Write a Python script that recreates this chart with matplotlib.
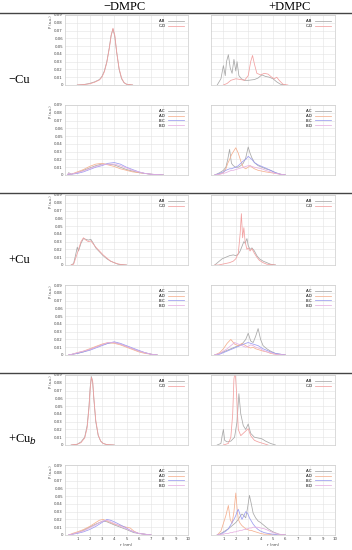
import numpy as np
import matplotlib
matplotlib.use("Agg")
import matplotlib.pyplot as plt
from matplotlib.lines import Line2D

# ---- data ----
# -Cu, -DMPC
x1 = [1.0, 1.5, 2.0, 2.4, 2.8, 3.0, 3.2, 3.4, 3.6, 3.75, 3.9, 4.05, 4.2, 4.4, 4.6, 4.8, 5.0, 5.5]
ab1 = [0, 0.0005, 0.002, 0.004, 0.007, 0.011, 0.018, 0.030, 0.048, 0.064, 0.072, 0.062, 0.042, 0.020, 0.008, 0.003, 0.001, 0]
cd1 = [0, 0.0005, 0.0015, 0.0035, 0.0065, 0.010, 0.017, 0.029, 0.047, 0.063, 0.073, 0.064, 0.043, 0.021, 0.009, 0.003, 0.001, 0]

x2 = [0.2, 0.3, 0.5, 1.0, 1.5, 2.0, 2.5, 3.0, 3.5, 4.0, 4.5, 5.0, 5.5, 6.0, 6.5, 7.0, 7.5, 8.0]
ac2 = [0, 0.003, 0.001, 0.003, 0.006, 0.009, 0.012, 0.014, 0.014, 0.013, 0.010, 0.007, 0.005, 0.003, 0.002, 0.001, 0.0005, 0]
ad2 = [0, 0.001, 0.001, 0.004, 0.007, 0.011, 0.014, 0.015, 0.013, 0.011, 0.008, 0.006, 0.004, 0.003, 0.002, 0.001, 0.0005, 0]
bc2 = [0, 0.001, 0.001, 0.002, 0.004, 0.007, 0.010, 0.012, 0.015, 0.016, 0.014, 0.010, 0.007, 0.004, 0.002, 0.001, 0.0005, 0]
bd2 = [0, 0.002, 0.001, 0.003, 0.005, 0.008, 0.011, 0.013, 0.014, 0.014, 0.012, 0.009, 0.006, 0.004, 0.002, 0.001, 0.0005, 0]

# -Cu, +DMPC
x3ab = [0.5, 0.8, 1.0, 1.15, 1.25, 1.4, 1.55, 1.7, 1.85, 2.0, 2.1, 2.25, 2.45, 2.7, 3.0, 3.5, 3.8, 4.1, 4.4, 4.7, 5.0, 5.3, 5.6, 6.0]
ab3 = [0, 0.008, 0.025, 0.012, 0.030, 0.039, 0.022, 0.015, 0.033, 0.018, 0.030, 0.012, 0.008, 0.006, 0.006, 0.007, 0.009, 0.013, 0.011, 0.010, 0.008, 0.004, 0.001, 0]
x3cd = [1.0, 1.3, 1.6, 2.0, 2.4, 2.7, 3.0, 3.2, 3.35, 3.5, 3.7, 4.0, 4.3, 4.6, 4.9, 5.1, 5.3, 5.5, 5.8, 6.2]
cd3 = [0, 0.002, 0.006, 0.008, 0.007, 0.006, 0.012, 0.030, 0.038, 0.027, 0.015, 0.013, 0.015, 0.014, 0.010, 0.008, 0.010, 0.006, 0.001, 0]

x4 = [0.3, 0.7, 1.0, 1.2, 1.35, 1.5, 1.65, 1.8, 2.0, 2.2, 2.4, 2.6, 2.8, 3.0, 3.15, 3.3, 3.5, 3.8, 4.1, 4.4, 4.8, 5.2, 5.6, 6.0]
ac4 = [0, 0.003, 0.006, 0.010, 0.020, 0.033, 0.015, 0.012, 0.010, 0.010, 0.012, 0.015, 0.022, 0.036, 0.028, 0.022, 0.016, 0.012, 0.010, 0.008, 0.006, 0.003, 0.001, 0]
ad4 = [0, 0.001, 0.003, 0.008, 0.015, 0.020, 0.026, 0.030, 0.035, 0.028, 0.018, 0.010, 0.008, 0.010, 0.012, 0.010, 0.008, 0.006, 0.005, 0.004, 0.003, 0.002, 0.001, 0]
bc4 = [0, 0.002, 0.004, 0.006, 0.007, 0.008, 0.008, 0.009, 0.010, 0.012, 0.015, 0.018, 0.020, 0.024, 0.022, 0.020, 0.016, 0.013, 0.011, 0.009, 0.006, 0.003, 0.001, 0]
bd4 = [0, 0.001, 0.002, 0.003, 0.004, 0.005, 0.006, 0.006, 0.007, 0.008, 0.009, 0.010, 0.011, 0.012, 0.012, 0.011, 0.010, 0.009, 0.008, 0.006, 0.004, 0.002, 0.001, 0]

# +Cu, -DMPC
x5 = [0.5, 0.7, 0.85, 1.0, 1.1, 1.3, 1.5, 1.7, 1.9, 2.1, 2.3, 2.5, 2.8, 3.1, 3.4, 3.7, 4.0, 4.3, 4.6, 5.0]
ab5 = [0, 0.002, 0.012, 0.023, 0.018, 0.028, 0.034, 0.033, 0.032, 0.033, 0.028, 0.022, 0.017, 0.012, 0.008, 0.005, 0.003, 0.001, 0.0005, 0]
cd5 = [0, 0.001, 0.008, 0.015, 0.020, 0.030, 0.035, 0.032, 0.030, 0.031, 0.027, 0.023, 0.018, 0.013, 0.009, 0.005, 0.003, 0.0015, 0.0005, 0]

x7 = [0.3, 0.6, 1.0, 1.5, 2.0, 2.5, 3.0, 3.5, 4.0, 4.5, 5.0, 5.5, 6.0, 6.5, 7.0, 7.5]
ac7 = [0, 0.001, 0.002, 0.004, 0.007, 0.010, 0.013, 0.015, 0.016, 0.014, 0.011, 0.008, 0.005, 0.003, 0.001, 0]
ad7 = [0, 0.001, 0.003, 0.005, 0.008, 0.011, 0.014, 0.016, 0.015, 0.013, 0.010, 0.007, 0.004, 0.002, 0.001, 0]
bc7 = [0, 0.001, 0.002, 0.004, 0.006, 0.009, 0.012, 0.015, 0.017, 0.015, 0.012, 0.009, 0.006, 0.003, 0.001, 0]
bd7 = [0, 0.001, 0.003, 0.005, 0.007, 0.010, 0.013, 0.016, 0.016, 0.014, 0.011, 0.008, 0.005, 0.003, 0.001, 0]

# +Cu, +DMPC
x6 = [0.3, 0.6, 0.9, 1.2, 1.5, 1.8, 2.0, 2.2, 2.35, 2.45, 2.55, 2.65, 2.75, 2.9, 3.0, 3.15, 3.3, 3.5, 3.7, 3.9, 4.2, 4.5, 4.8, 5.2]
ab6 = [0, 0.004, 0.008, 0.010, 0.012, 0.013, 0.012, 0.014, 0.018, 0.022, 0.026, 0.030, 0.028, 0.034, 0.025, 0.020, 0.022, 0.018, 0.012, 0.008, 0.005, 0.003, 0.001, 0]
cd6 = [0, 0, 0.001, 0.002, 0.003, 0.005, 0.008, 0.015, 0.040, 0.066, 0.035, 0.048, 0.030, 0.020, 0.022, 0.018, 0.021, 0.015, 0.010, 0.006, 0.003, 0.001, 0.0005, 0]

x8 = [0.3, 0.7, 1.0, 1.3, 1.6, 1.9, 2.2, 2.5, 2.8, 3.0, 3.2, 3.4, 3.6, 3.8, 4.0, 4.2, 4.5, 4.8, 5.2, 5.6, 6.0]
ac8 = [0, 0.002, 0.004, 0.006, 0.008, 0.010, 0.012, 0.014, 0.020, 0.028, 0.018, 0.016, 0.024, 0.034, 0.020, 0.012, 0.008, 0.005, 0.002, 0.001, 0]
ad8 = [0, 0.003, 0.008, 0.015, 0.020, 0.014, 0.012, 0.015, 0.012, 0.010, 0.009, 0.010, 0.008, 0.007, 0.006, 0.005, 0.004, 0.002, 0.001, 0, 0]
bc8 = [0, 0.001, 0.003, 0.005, 0.007, 0.009, 0.011, 0.013, 0.015, 0.016, 0.015, 0.014, 0.013, 0.012, 0.010, 0.008, 0.006, 0.004, 0.002, 0.001, 0]
bd8 = [0, 0.002, 0.005, 0.008, 0.012, 0.016, 0.014, 0.012, 0.010, 0.011, 0.013, 0.012, 0.010, 0.009, 0.008, 0.006, 0.004, 0.003, 0.001, 0.0005, 0]

# +Cu_b, -DMPC
x9 = [0.5, 1.0, 1.3, 1.6, 1.8, 1.95, 2.05, 2.15, 2.25, 2.35, 2.5, 2.7, 2.9, 3.1, 3.4, 4.0]
ab9 = [0, 0.001, 0.004, 0.010, 0.025, 0.050, 0.075, 0.088, 0.080, 0.058, 0.030, 0.012, 0.005, 0.002, 0.0005, 0]
cd9 = [0, 0.001, 0.003, 0.009, 0.022, 0.047, 0.073, 0.087, 0.082, 0.060, 0.032, 0.013, 0.005, 0.002, 0.0005, 0]

x11 = [0.3, 0.6, 1.0, 1.5, 2.0, 2.5, 2.8, 3.1, 3.4, 3.7, 4.0, 4.5, 5.0, 5.3, 5.6, 6.0, 6.5, 7.0]
ac11 = [0, 0.001, 0.003, 0.006, 0.010, 0.014, 0.016, 0.018, 0.017, 0.015, 0.013, 0.010, 0.007, 0.005, 0.003, 0.002, 0.001, 0]
ad11 = [0, 0.002, 0.004, 0.007, 0.011, 0.016, 0.019, 0.020, 0.018, 0.016, 0.014, 0.012, 0.010, 0.009, 0.005, 0.002, 0.001, 0]
bc11 = [0, 0.001, 0.002, 0.004, 0.007, 0.011, 0.014, 0.017, 0.020, 0.019, 0.017, 0.013, 0.009, 0.006, 0.004, 0.002, 0.001, 0]
bd11 = [0, 0.001, 0.003, 0.005, 0.009, 0.013, 0.016, 0.018, 0.019, 0.017, 0.015, 0.011, 0.008, 0.006, 0.004, 0.002, 0.001, 0]

# +Cu_b, +DMPC
x10ab = [0.5, 0.8, 0.9, 1.0, 1.1, 1.3, 1.6, 1.9, 2.1, 2.25, 2.4, 2.6, 2.8, 3.0, 3.2, 3.5, 3.8, 4.1, 4.4, 4.8, 5.2]
ab10 = [0, 0.002, 0.012, 0.020, 0.006, 0.004, 0.005, 0.010, 0.030, 0.066, 0.040, 0.025, 0.020, 0.027, 0.015, 0.010, 0.009, 0.008, 0.005, 0.002, 0]
x10cd = [1.0, 1.4, 1.6, 1.75, 1.85, 1.95, 2.05, 2.2, 2.4, 2.6, 2.8, 3.0, 3.2, 3.5, 3.8, 4.2, 4.6]
cd10 = [0, 0.002, 0.010, 0.040, 0.085, 0.095, 0.070, 0.020, 0.012, 0.015, 0.018, 0.021, 0.012, 0.006, 0.004, 0.002, 0]

x12 = [0.5, 0.8, 1.0, 1.2, 1.4, 1.55, 1.7, 1.85, 2.0, 2.1, 2.2, 2.35, 2.5, 2.65, 2.8, 2.95, 3.1, 3.25, 3.4, 3.6, 3.8, 4.0, 4.3, 4.6, 5.0, 5.5, 6.0]
ac12 = [0, 0.002, 0.004, 0.006, 0.008, 0.010, 0.012, 0.014, 0.016, 0.018, 0.020, 0.024, 0.027, 0.025, 0.022, 0.035, 0.051, 0.040, 0.028, 0.022, 0.018, 0.016, 0.012, 0.008, 0.004, 0.001, 0]
ad12 = [0, 0.005, 0.015, 0.025, 0.038, 0.020, 0.015, 0.030, 0.054, 0.035, 0.020, 0.015, 0.012, 0.010, 0.008, 0.007, 0.006, 0.006, 0.005, 0.004, 0.003, 0.002, 0.001, 0.001, 0, 0, 0]
bc12 = [0, 0.001, 0.003, 0.005, 0.008, 0.012, 0.016, 0.020, 0.025, 0.030, 0.033, 0.026, 0.020, 0.025, 0.030, 0.028, 0.022, 0.018, 0.014, 0.010, 0.007, 0.005, 0.003, 0.002, 0.001, 0, 0]
bd12 = [0, 0.001, 0.001, 0.002, 0.002, 0.003, 0.003, 0.004, 0.004, 0.005, 0.005, 0.006, 0.006, 0.007, 0.007, 0.008, 0.009, 0.009, 0.010, 0.010, 0.010, 0.009, 0.008, 0.006, 0.003, 0.001, 0]

col_titles = ["\u2212DMPC", "+DMPC"]
row_titles = ["\u2212Cu", "+Cu", "+Cu$_b$"]
yticks = [0, 0.01, 0.02, 0.03, 0.04, 0.05, 0.06, 0.07, 0.08, 0.09]
ytick_labels = ["0", "0.01", "0.02", "0.03", "0.04", "0.05", "0.06", "0.07", "0.08", "0.09"]
xticks = [1, 2, 3, 4, 5, 6, 7, 8, 9, 10]

c_ab = "#a8a8a8"
c_cd = "#f2a0a0"
c4 = {"A-C": "#a8a8a8", "A-D": "#f5b090", "B-C": "#9c9cf0", "B-D": "#e6b0e2"}

# panels: (row, col, list of (x, y, label, colour))
panels = [
    (0, 0, [(x1, ab1, "A-B", c_ab), (x1, cd1, "C-D", c_cd)]),
    (1, 0, [(x2, ac2, "A-C", c4["A-C"]), (x2, ad2, "A-D", c4["A-D"]), (x2, bc2, "B-C", c4["B-C"]), (x2, bd2, "B-D", c4["B-D"])]),
    (0, 1, [(x3ab, ab3, "A-B", c_ab), (x3cd, cd3, "C-D", c_cd)]),
    (1, 1, [(x4, ac4, "A-C", c4["A-C"]), (x4, ad4, "A-D", c4["A-D"]), (x4, bc4, "B-C", c4["B-C"]), (x4, bd4, "B-D", c4["B-D"])]),
    (2, 0, [(x5, ab5, "A-B", c_ab), (x5, cd5, "C-D", c_cd)]),
    (3, 0, [(x7, ac7, "A-C", c4["A-C"]), (x7, ad7, "A-D", c4["A-D"]), (x7, bc7, "B-C", c4["B-C"]), (x7, bd7, "B-D", c4["B-D"])]),
    (2, 1, [(x6, ab6, "A-B", c_ab), (x6, cd6, "C-D", c_cd)]),
    (3, 1, [(x8, ac8, "A-C", c4["A-C"]), (x8, ad8, "A-D", c4["A-D"]), (x8, bc8, "B-C", c4["B-C"]), (x8, bd8, "B-D", c4["B-D"])]),
    (4, 0, [(x9, ab9, "A-B", c_ab), (x9, cd9, "C-D", c_cd)]),
    (5, 0, [(x11, ac11, "A-C", c4["A-C"]), (x11, ad11, "A-D", c4["A-D"]), (x11, bc11, "B-C", c4["B-C"]), (x11, bd11, "B-D", c4["B-D"])]),
    (4, 1, [(x10ab, ab10, "A-B", c_ab), (x10cd, cd10, "C-D", c_cd)]),
    (5, 1, [(x12, ac12, "A-C", c4["A-C"]), (x12, ad12, "A-D", c4["A-D"]), (x12, bc12, "B-C", c4["B-C"]), (x12, bd12, "B-D", c4["B-D"])]),
]

W, H = 352, 550
fig = plt.figure(figsize=(W / 100, H / 100), dpi=100)

col_x = [(65, 123), (211, 124)]
row_top = [15, 105, 195, 285, 375, 465]
row_h = 70

for r, c, series in panels:
    left, width = col_x[c]
    top = row_top[r]
    ax = fig.add_axes([left / W, 1 - (top + row_h) / H, width / W, row_h / H])
    for x, y, lab, col in series:
        ax.plot(x, y, color=col, lw=0.55, label=lab)
    ax.set_xlim(0, 10)
    ax.set_ylim(0, 0.09)
    ax.set_xticks(xticks)
    ax.set_yticks(yticks)
    ax.grid(True, color="#e4e4e4", lw=0.4)
    ax.set_axisbelow(True)
    for s in ax.spines.values():
        s.set_color("#cccccc")
        s.set_linewidth(0.5)
    ax.tick_params(length=0, pad=1.5, labelsize=2.8, colors="#444444")
    if c == 0:
        ax.set_yticklabels(ytick_labels)
        ax.set_ylabel("P (a.u.)", fontsize=2.5, loc="top", labelpad=1, color="#444444")
    else:
        ax.set_yticklabels([])
    if r == 5:
        ax.set_xticklabels([str(t) for t in xticks])
        ax.set_xlabel("r (nm)", fontsize=2.8, labelpad=1.5, color="#444444")
    else:
        ax.set_xticklabels([])
    ax.legend(loc="upper right", fontsize=2.8, frameon=False, markerfirst=False,
              handlelength=4, handletextpad=0.6, labelspacing=0.2, borderpad=0.6)

# separators and labels
for yl in [13, 193, 373]:
    fig.add_artist(Line2D([0, 1], [1 - yl / H, 1 - yl / H], transform=fig.transFigure,
                          color="#444444", lw=1.0))

fig.text(125 / W, 1 - 7 / H, col_titles[0], ha="center", va="center",
         fontsize=9, family="Liberation Serif")
fig.text(290 / W, 1 - 7 / H, col_titles[1], ha="center", va="center",
         fontsize=9, family="Liberation Serif")
for i, t in enumerate(row_titles):
    fig.text(8 / W, 1 - (80 + 180 * i) / H, t, ha="left", va="center",
             fontsize=9, family="Liberation Serif")

fig.savefig("out.png", dpi=100)
